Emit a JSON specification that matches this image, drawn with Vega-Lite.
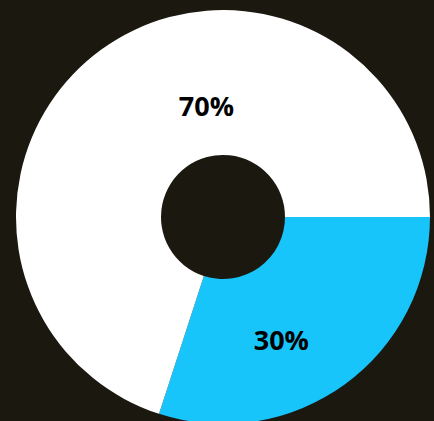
{
  "$schema": "https://vega.github.io/schema/vega-lite/v6.json",
  "width": 446,
  "height": 434,
  "padding": 0,
  "autosize": "none",
  "background": "#1b1810",
  "config": {"view": {"stroke": null}},
  "data": {"values": [
    {"category": "B", "value": 30, "label": "30%"},
    {"category": "A", "value": 70, "label": "70%"}
  ]},
  "encoding": {
    "theta": {"field": "value", "type": "quantitative", "stack": true, "scale": {"range": [1.5708, 7.854]}},
    "order": {"field": "category", "sort": "descending"}
  },
  "layer": [
    {
      "mark": {"type": "arc", "outerRadius": 207, "innerRadius": 62},
      "encoding": {
        "color": {"field": "category", "type": "nominal", "scale": {"domain": ["A", "B"], "range": ["#ffffff", "#18c5fa"]}, "legend": null}
      }
    },
    {
      "mark": {"type": "text", "radius": 110, "dx": 48, "dy": -20, "font": "Open Sans", "fontWeight": "bold", "fontSize": 27, "color": "#000000", "align": "center", "baseline": "middle"},
      "encoding": {"text": {"condition": {"test": "datum.category == 'A'", "field": "label"}, "value": ""}}
    },
    {
      "mark": {"type": "text", "radius": 140, "dx": -24, "dy": 12, "font": "Open Sans", "fontWeight": "bold", "fontSize": 27, "color": "#000000", "align": "center", "baseline": "middle"},
      "encoding": {"text": {"condition": {"test": "datum.category == 'B'", "field": "label"}, "value": ""}}
    }
  ]
}
